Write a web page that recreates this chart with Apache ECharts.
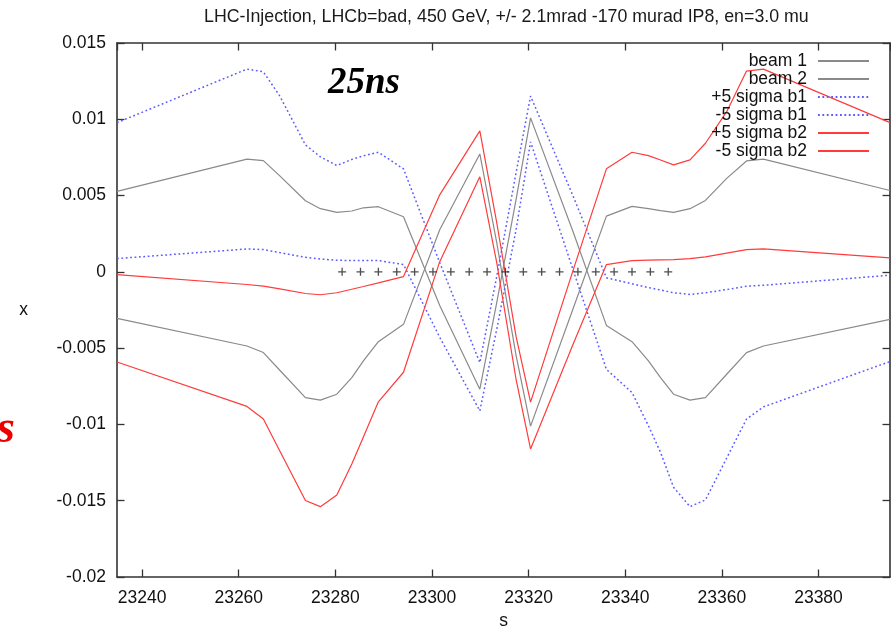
<!DOCTYPE html>
<html>
<head>
<meta charset="utf-8">
<script src="https://cdn.jsdelivr.net/npm/echarts@6/dist/echarts.min.js"></script>
<style>
html,body{margin:0;padding:0;background:#fff;}
#chart{width:891px;height:628px;}
</style>
</head>
<body>
<div id="chart"></div>
<script>
// s positions (m) of the optics sample points
const S = [23234.8, 23261.7, 23265.1, 23268.5, 23273.8, 23276.9, 23280.3, 23283.4, 23285.8, 23288.9, 23294.1, 23301.6, 23309.9, 23313.4, 23317.4, 23320.4, 23329.2, 23336.1, 23341.4, 23344.8, 23347.3, 23350.0, 23353.4, 23356.6, 23361.0, 23365.1, 23368.6, 23394.8];
const beam1 = [0.00527, 0.00739, 0.00729, 0.00629, 0.00466, 0.00414, 0.00390, 0.00399, 0.00420, 0.00427, 0.00361, -0.00220, -0.00769, -0.00201, 0.00473, 0.01009, 0.00263, -0.00351, -0.00458, -0.00584, -0.00693, -0.00802, -0.00841, -0.00824, -0.00671, -0.00529, -0.00486, -0.00312];
const beam2 = [-0.00305, -0.00486, -0.00529, -0.00645, -0.00824, -0.00841, -0.00802, -0.00693, -0.00584, -0.00458, -0.00344, 0.00276, 0.00773, 0.00192, -0.00547, -0.01011, -0.00242, 0.00365, 0.00429, 0.00414, 0.00401, 0.00390, 0.00414, 0.00468, 0.00613, 0.00727, 0.00739, 0.00533];
const plus5b1 = [0.00978, 0.01329, 0.01311, 0.01152, 0.00832, 0.00754, 0.00697, 0.00737, 0.00760, 0.00784, 0.00675, 0.00061, -0.00595, -0.00031, 0.00649, 0.01152, 0.00497, -0.00039, -0.00078, -0.00103, -0.00119, -0.00137, -0.00148, -0.00137, -0.00116, -0.00094, -0.00088, -0.00022];
const minus5b1 = [0.00087, 0.00150, 0.00146, 0.00126, 0.00095, 0.00084, 0.00076, 0.00074, 0.00074, 0.00074, 0.00048, -0.00429, -0.00911, -0.00377, 0.00276, 0.00852, 0.00013, -0.00639, -0.00791, -0.01009, -0.01183, -0.01412, -0.01539, -0.01495, -0.01220, -0.00965, -0.00885, -0.00588];
const plus5b2 = [-0.00018, -0.00083, -0.00094, -0.00112, -0.00142, -0.00150, -0.00137, -0.00114, -0.00096, -0.00072, -0.00031, 0.00505, 0.00924, 0.00322, -0.00423, -0.00854, 0.00010, 0.00675, 0.00784, 0.00762, 0.00733, 0.00701, 0.00734, 0.00843, 0.01050, 0.01316, 0.01329, 0.00978];
const minus5b2 = [-0.00591, -0.00882, -0.00965, -0.01174, -0.01499, -0.01539, -0.01462, -0.01259, -0.01083, -0.00852, -0.00658, 0.00067, 0.00623, 0.00061, -0.00704, -0.01161, -0.00475, 0.00048, 0.00074, 0.00077, 0.00079, 0.00080, 0.00087, 0.00098, 0.00123, 0.00146, 0.00150, 0.00092];
// parasitic encounter positions (25 ns spacing) around IP8
const encounters = [23281.4, 23285.2, 23288.9, 23292.7, 23296.4, 23300.2, 23303.9, 23307.7, 23311.4, 23315.2, 23318.9, 23322.7, 23326.4, 23330.2, 23333.9, 23337.7, 23341.4, 23345.2, 23348.9];
const seriesNames = ['beam 1', 'beam 2', '+5 sigma b1', '-5 sigma b1', '+5 sigma b2', '-5 sigma b2'];
const titleText = 'LHC-Injection, LHCb=bad, 450 GeV, +/- 2.1mrad -170 murad IP8, en=3.0 mu';

const FONT = 'Liberation Sans, Arial, Helvetica, sans-serif';
const FS = 17.5;
const GRAY = '#8a8a8a', RED = '#ff3b3b', BLUE = '#5b5bff';

function pairs(vals) { return S.map((s, i) => [s, vals[i]]); }
function lineSeries(name, vals, color, dash) {
  return {
    name: name, type: 'line', data: pairs(vals), symbol: 'none', showSymbol: false, smooth: false,
    lineStyle: { color: color, width: dash ? 1.5 : 1.2, type: dash ? [1.8, 2.6] : 'solid' },
    itemStyle: { color: color }, animation: false, z: 3
  };
}

const xMin = 23234.8, xMax = 23394.8;
const axisCommon = {
  axisLine: { show: true, onZero: false, lineStyle: { color: '#333', width: 1.6 } },
  axisTick: { show: true, inside: true, length: 7.5, lineStyle: { color: '#333', width: 1.3 } },
  splitLine: { show: false }
};

const chart = echarts.init(document.getElementById('chart'), null, { renderer: 'canvas' });
chart.setOption({
  backgroundColor: '#fff',
  animation: false,
  title: {
    text: titleText, left: 199, top: 3,
    textStyle: { fontFamily: FONT, fontSize: 17.8, fontWeight: 'normal', color: '#1a1a1a' }
  },
  grid: { left: 117, right: 1, top: 43, bottom: 51, containLabel: false, outerBoundsMode: 'none' },
  legend: {
    data: seriesNames, orient: 'vertical', align: 'right', right: 16, top: 47,
    itemWidth: 51, itemHeight: 10, itemGap: 0,
    itemStyle: { opacity: 0, borderWidth: 0 },
    textStyle: { fontFamily: FONT, fontSize: FS, color: '#111', lineHeight: 17.7, padding: [0, 6, 0, 0] },
    backgroundColor: 'rgba(255,255,255,0)'
  },
  xAxis: [
    Object.assign({
      type: 'value', min: xMin, max: xMax, splitNumber: 8, position: 'bottom',
      name: 's', nameLocation: 'middle', nameGap: 35,
      nameTextStyle: { fontFamily: FONT, fontSize: FS, color: '#111' },
      axisLabel: { show: true, showMinLabel: false, showMaxLabel: false, margin: 12, fontFamily: FONT, fontSize: FS, color: '#111',
        formatter: function (v) { return String(Math.round(v)); } }
    }, axisCommon),
    Object.assign({
      type: 'value', min: xMin, max: xMax, splitNumber: 8, position: 'top',
      axisLabel: { show: false }
    }, axisCommon)
  ],
  yAxis: [
    Object.assign({
      type: 'value', min: -0.02, max: 0.015, interval: 0.005, position: 'left',
      name: 'x', nameLocation: 'middle', nameGap: 89, nameRotate: 0,
      nameTextStyle: { fontFamily: FONT, fontSize: FS, color: '#111', padding: [8, 0, 0, 0] },
      axisLabel: { show: true, margin: 11, fontFamily: FONT, fontSize: FS, color: '#111' }
    }, axisCommon),
    Object.assign({
      type: 'value', min: -0.02, max: 0.015, interval: 0.005, position: 'right',
      axisLabel: { show: false }
    }, axisCommon)
  ],
  series: [
    lineSeries(seriesNames[0], beam1, GRAY, false),
    lineSeries(seriesNames[1], beam2, GRAY, false),
    lineSeries(seriesNames[2], plus5b1, BLUE, true),
    lineSeries(seriesNames[3], minus5b1, BLUE, true),
    lineSeries(seriesNames[4], plus5b2, RED, false),
    lineSeries(seriesNames[5], minus5b2, RED, false),
    {
      name: 'encounters', type: 'scatter', data: encounters.map(s => [s, 0]),
      symbol: 'path://M0,5L10,5M5,0L5,10', symbolSize: 8,
      itemStyle: { color: 'rgba(0,0,0,0)', borderColor: '#222', borderWidth: 1.3 },
      z: 4, animation: false, silent: true
    }
  ],
  graphic: [
    { type: 'text', left: 328, top: 65, z: 10,
      style: { text: '25ns', font: 'italic bold 37px "Liberation Serif", "Times New Roman", serif', fill: '#000' } },
    { type: 'text', left: -3, top: 407, z: 10,
      style: { text: 's', font: 'italic bold 46px "Liberation Serif", "Times New Roman", serif', fill: '#ee0000' } }
  ]
});
</script>
</body>
</html>
